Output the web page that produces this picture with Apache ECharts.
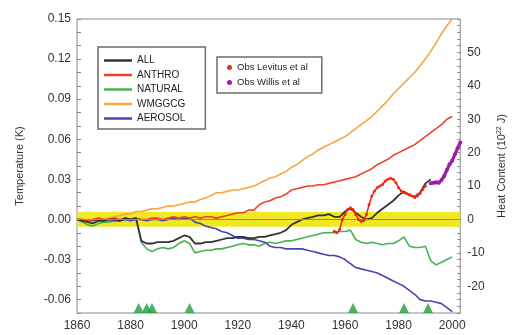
<!DOCTYPE html>
<html><head><meta charset="utf-8">
<script src="https://cdn.jsdelivr.net/npm/echarts@6/dist/echarts.min.js"></script>
<style>html,body{margin:0;padding:0;background:#fff}#c{width:515px;height:335px}</style>
</head><body><div id="c"></div>
<script>
// ---- data ----
const years = [1860,1862,1864,1866,1868,1870,1872,1874,1876,1878,1880,1882,1884,1886,1888,1890,1892,1894,1896,1898,
  1900,1902,1904,1906,1908,1910,1912,1914,1916,1918,1920,1922,1924,1926,1928,1930,1932,1934,1936,1938,
  1940,1942,1944,1946,1948,1950,1952,1954,1956,1958,1960,1962,1964,1966,1968,1970,1972,1974,1976,1978,
  1980,1982,1984,1986,1988,1990,1992,1994,1996,1998,2000];

const allForcings = [0.000,-0.001,-0.002,-0.003,-0.001,-0.001,0.000,0.000,-0.001,0.001,0.000,0.001,-0.016,-0.018,-0.018,-0.017,-0.017,-0.017,-0.016,-0.014,
  -0.012,-0.013,-0.018,-0.018,-0.017,-0.017,-0.016,-0.015,-0.014,-0.014,-0.013,-0.013,-0.014,-0.014,-0.013,-0.013,-0.012,-0.011,-0.010,-0.008,
  -0.004,-0.002,0.000,0.001,0.002,0.003,0.003,0.004,0.002,0.002,0.006,0.008,0.005,0.002,0.000,0.001,0.005,0.008,0.011,0.014,
  0.018,0.021,0.018,0.017,0.020,0.027,0.030,null,null,null,null];

const anthro = [0.000,0.000,-0.001,0.000,0.001,0.000,0.000,0.001,0.000,0.001,0.000,0.001,0.000,0.000,0.001,0.001,0.000,0.001,0.002,0.001,
  0.002,0.001,0.002,0.001,0.002,0.002,0.001,0.002,0.003,0.004,0.005,0.005,0.007,0.007,0.011,0.013,0.014,0.016,0.017,0.019,
  0.022,0.023,0.024,0.025,0.025,0.026,0.026,0.027,0.028,0.029,0.030,0.031,0.032,0.034,0.036,0.038,0.041,0.043,0.045,0.048,
  0.050,0.052,0.054,0.056,0.059,0.062,0.065,0.068,0.071,0.075,0.077];

const natural = [0.000,-0.002,-0.004,-0.005,-0.003,-0.002,-0.002,-0.001,-0.001,0.000,0.000,0.001,-0.017,-0.022,-0.024,-0.022,-0.021,-0.022,-0.021,-0.018,
  -0.016,-0.018,-0.025,-0.024,-0.023,-0.023,-0.022,-0.022,-0.021,-0.020,-0.019,-0.018,-0.019,-0.019,-0.020,-0.018,-0.017,-0.018,-0.017,-0.016,
  -0.016,-0.015,-0.014,-0.013,-0.012,-0.011,-0.010,-0.010,-0.010,-0.009,-0.009,-0.008,-0.015,-0.017,-0.018,-0.017,-0.018,-0.019,-0.018,-0.018,
  -0.016,-0.013,-0.020,-0.021,-0.021,-0.020,-0.031,-0.034,-0.032,-0.030,-0.028];

const wmggcg = [0.000,0.000,-0.001,0.000,0.001,0.000,0.001,0.002,0.003,0.004,0.004,0.006,0.006,0.007,0.008,0.008,0.009,0.010,0.010,0.011,
  0.012,0.013,0.013,0.015,0.016,0.018,0.020,0.020,0.021,0.022,0.022,0.023,0.024,0.025,0.027,0.029,0.031,0.032,0.034,0.036,
  0.039,0.041,0.044,0.047,0.049,0.052,0.054,0.056,0.058,0.060,0.062,0.065,0.068,0.071,0.074,0.077,0.081,0.085,0.089,0.094,
  0.098,0.102,0.106,0.110,0.115,0.120,0.126,0.132,0.139,0.145,0.150];

const aerosol = [0.000,0.000,-0.001,-0.001,0.000,-0.001,0.000,-0.001,-0.001,0.000,-0.001,0.000,0.000,-0.001,0.000,0.000,-0.001,0.000,0.001,0.000,
  0.001,0.001,-0.002,-0.003,-0.005,-0.006,-0.007,-0.009,-0.010,-0.012,-0.014,-0.014,-0.015,-0.015,-0.016,-0.017,-0.020,-0.021,-0.021,-0.022,
  -0.022,-0.022,-0.022,-0.023,-0.024,-0.025,-0.026,-0.027,-0.027,-0.028,-0.030,-0.033,-0.036,-0.037,-0.038,-0.039,-0.040,-0.042,-0.044,-0.046,
  -0.048,-0.050,-0.053,-0.056,-0.060,-0.061,-0.061,-0.062,-0.063,-0.066,-0.069];

// observations, heat content (10^22 J)
const levitusYears = [1956,1957,1958,1959,1960,1961,1962,1963,1964,1965,1966,1967,1968,1969,1970,1971,1972,1973,1974,1975,
  1976,1977,1978,1979,1980,1981,1982,1983,1984,1985,1986,1987,1988,1989,1990];
const levitus = [-3.5,-4.0,-3.0,0.0,1.5,3.0,3.5,3.0,1.5,0.0,-0.5,-0.3,1.5,4.5,7.0,8.5,9.5,10.0,10.5,11.5,
  12.0,12.3,12.0,11.0,9.5,8.5,8.0,7.8,7.5,7.0,6.6,7.0,7.8,9.0,10.0];
const willisYears = [1992,1993,1994,1995,1996,1997,1998,1999,2000,2001,2002,2003];
const willis = [10.8,11.0,11.1,11.0,11.8,13.0,14.8,16.5,17.6,19.5,21.3,23.0];

const volcanoYears = [1883,1886,1888,1902,1963,1982,1991];

// axis ticks / labels
const xLabels = [1860,1880,1900,1920,1940,1960,1980,2000];
const xTicks = [1860,1865,1870,1875,1880,1885,1890,1895,1900,1905,1910,1915,1920,1925,1930,1935,1940,1945,1950,1955,1960,1965,1970,1975,1980,1985,1990,1995,2000];
const tLabels = [-0.06,-0.03,0.00,0.03,0.06,0.09,0.12,0.15];
const tTicks = [-0.07,-0.06,-0.05,-0.04,-0.03,-0.02,-0.01,0,0.01,0.02,0.03,0.04,0.05,0.06,0.07,0.08,0.09,0.10,0.11,0.12,0.13,0.14,0.15];
const hLabels = [-20,-10,0,10,20,30,40,50];
const hTicks = [-28,-26,-24,-22,-20,-18,-16,-14,-12,-10,-8,-6,-4,-2,0,2,4,6,8,10,12,14,16,18,20,22,24,26,28,30,32,34,36,38,40,42,44,46,48,50,52,54,56,58,60];

const pair = (xs, vs) => xs.map((x, i) => [x, vs[i]]);
const FONT = 'Liberation Sans, Arial, sans-serif';

const chart = echarts.init(document.getElementById('c'), null, {renderer: 'canvas'});
const lineS = (name, vals, color, z) => ({
  name, type: 'line', data: pair(years, vals), showSymbol: false, symbol: 'none',
  lineStyle: {color, width: 1.6}, itemStyle: {color}, z, connectNulls: false, animation: false
});

chart.setOption({
  animation: false,
  backgroundColor: '#fff',
  textStyle: {fontFamily: FONT},
  grid: {left: 77, right: 43, top: 19, bottom: 22, show: true, borderColor: '#8a8a8a', borderWidth: 1, backgroundColor: 'transparent'},
  legend: [{
    data: ['ALL', 'ANTHRO', 'NATURAL', 'WMGGCG', 'AEROSOL'],
    left: 98, top: 47, orient: 'vertical', icon: 'rect',
    itemWidth: 28, itemHeight: 2.5, itemGap: 3.5,
    padding: [8, 20, 5, 6], borderColor: '#6e6e6e', borderWidth: 1.5,
    textStyle: {fontSize: 10, lineHeight: 11, color: '#222', fontFamily: FONT},
    selectedMode: false
  }, {
    data: ['Obs Levitus et al', 'Obs Willis et al'],
    left: 217, top: 57, orient: 'vertical', icon: 'circle',
    itemWidth: 5, itemHeight: 5, itemGap: 4,
    padding: [5, 14, 5, 10], borderColor: '#6e6e6e', borderWidth: 1.5,
    textStyle: {fontSize: 9.5, lineHeight: 11, color: '#222', fontFamily: FONT},
    selectedMode: false
  }],
  xAxis: [{
    type: 'value', min: 1860, max: 2003, position: 'bottom',
    axisLine: {show: false},
    axisTick: {show: true, inside: true, length: 4, customValues: xTicks, lineStyle: {color: '#8a8a8a'}},
    axisLabel: {customValues: xLabels, formatter: v => String(v), fontSize: 12, color: '#333', margin: 7, fontFamily: FONT},
    splitLine: {show: false}
  }, {
    type: 'value', min: 1860, max: 2003, position: 'top',
    axisLine: {show: false},
    axisTick: {show: true, inside: true, length: 4, customValues: xTicks, lineStyle: {color: '#8a8a8a'}},
    axisLabel: {show: false}, splitLine: {show: false}
  }],
  yAxis: [{
    type: 'value', min: -0.07, max: 0.15, position: 'left',
    name: 'Temperature (K)', nameLocation: 'middle', nameRotate: 90, nameGap: 52,
    nameTextStyle: {fontSize: 11, color: '#333', fontFamily: FONT},
    axisLine: {show: false},
    axisTick: {show: true, inside: true, length: 4, customValues: tTicks, lineStyle: {color: '#8a8a8a'}},
    axisLabel: {customValues: tLabels, formatter: v => v.toFixed(2), fontSize: 12, color: '#333', margin: 6, fontFamily: FONT},
    splitLine: {show: false}
  }, {
    type: 'value', min: -28, max: 60, position: 'right',
    name: 'Heat Content (10{s|22} J)', nameLocation: 'middle', nameRotate: 90, nameGap: 30,
    nameTextStyle: {fontSize: 11, color: '#333', fontFamily: FONT, rich: {s: {fontSize: 7, verticalAlign: 'top', color: '#333', padding: [0,0,5,0]}}},
    axisLine: {show: false},
    axisTick: {show: true, inside: true, length: 3, customValues: hTicks, lineStyle: {color: '#8a8a8a'}},
    axisLabel: {customValues: hLabels, fontSize: 12, color: '#333', margin: 7, fontFamily: FONT},
    splitLine: {show: false}
  }],
  series: [
    {
      name: 'band', type: 'line', data: [], z: 1, silent: true,
      markArea: {silent: true, itemStyle: {color: '#f2e821'}, data: [[{yAxis: -0.0055}, {yAxis: 0.0055}]]},
      markLine: {silent: true, symbol: 'none', label: {show: false}, lineStyle: {color: '#9c9420', width: 1, type: 'solid'}, data: [{yAxis: 0}]}
    },
    lineS('NATURAL', natural, '#48b24e', 3),
    lineS('AEROSOL', aerosol, '#4646b4', 3),
    lineS('WMGGCG', wmggcg, '#f9a443', 3),
    lineS('ANTHRO', anthro, '#f0412f', 3),
    Object.assign(lineS('ALL', allForcings, '#333333', 4), {lineStyle: {color: '#333333', width: 1.8}}),
    {
      name: 'Obs Levitus et al', type: 'line', yAxisIndex: 1, data: pair(levitusYears, levitus),
      symbol: 'circle', symbolSize: 3, showSymbol: true,
      lineStyle: {color: '#ee2a1a', width: 1.6}, itemStyle: {color: '#ee2a1a'}, z: 5
    },
    {
      name: 'Obs Willis et al', type: 'line', yAxisIndex: 1, data: pair(willisYears, willis),
      symbol: 'circle', symbolSize: 4, showSymbol: true,
      lineStyle: {color: '#9a1ea6', width: 3.2}, itemStyle: {color: '#9a1ea6'}, z: 5
    },
    {
      name: 'volcano', type: 'scatter', data: volcanoYears.map(y => [y, -0.07]),
      symbol: 'triangle', symbolSize: [10, 10], symbolOffset: [0, -5], clip: false,
      itemStyle: {color: '#1f9e3c'}, z: 6, silent: true
    }
  ]
});
</script>
</body></html>
